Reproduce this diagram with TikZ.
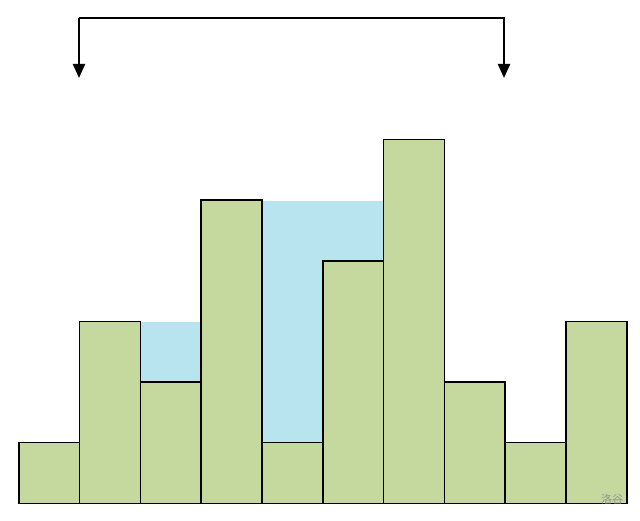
\documentclass[tikz,border=0pt]{standalone}
\usepackage{fontspec}
\newfontfamily\cjk{Noto Sans CJK SC}
\usetikzlibrary{arrows.meta}
\definecolor{barg}{HTML}{C5D89E}
\definecolor{water}{HTML}{B8E4EF}
\tikzset{
  bar/.style={draw=black, line width=1.5pt, fill=barg, anchor=south west, inner sep=0pt, minimum width=60.8pt},
  wat/.style={fill=water, draw=none},
  span/.style={line width=2.2pt, -{Triangle[width=12pt,length=14pt]}},
}
\begin{document}
\begin{tikzpicture}[x=1pt,y=-1pt]
\useasboundingbox[fill=white] (0,0) rectangle (640,521);
% water
\fill[wat] (139.6,322.2) rectangle (200.4,382.8);
\fill[wat] (261.2,201) rectangle (382.8,443.4);
% bars
\node[bar, minimum height=60.6pt]  (b1)  at (18,504) {};
\node[bar, minimum height=181.8pt] (b2)  at (78.8,504) {};
\node[bar, minimum height=121.2pt] (b3)  at (139.6,504) {};
\node[bar, minimum height=303pt]   (b4)  at (200.4,504) {};
\node[bar, minimum height=60.6pt]  (b5)  at (261.2,504) {};
\node[bar, minimum height=242.4pt] (b6)  at (322,504) {};
\node[bar, minimum height=363.6pt] (b7)  at (382.8,504) {};
\node[bar, minimum height=121.2pt] (b8)  at (443.6,504) {};
\node[bar, minimum height=60.6pt]  (b9)  at (504.4,504) {};
\node[bar, minimum height=181.8pt] (b10) at (565.2,504) {};
% arrow
\coordinate (al) at (79,78);
\coordinate (ar) at (504,78);
\draw[span] (al |- 0,18) -- (al);
\draw[span] (al |- 0,18) -- (ar |- 0,18) -- (ar);
% watermark
\node[text=gray!85, font=\cjk\fontsize{11}{11}\selectfont] (wm) at (612,499) {洛谷};
\end{tikzpicture}
\end{document}
